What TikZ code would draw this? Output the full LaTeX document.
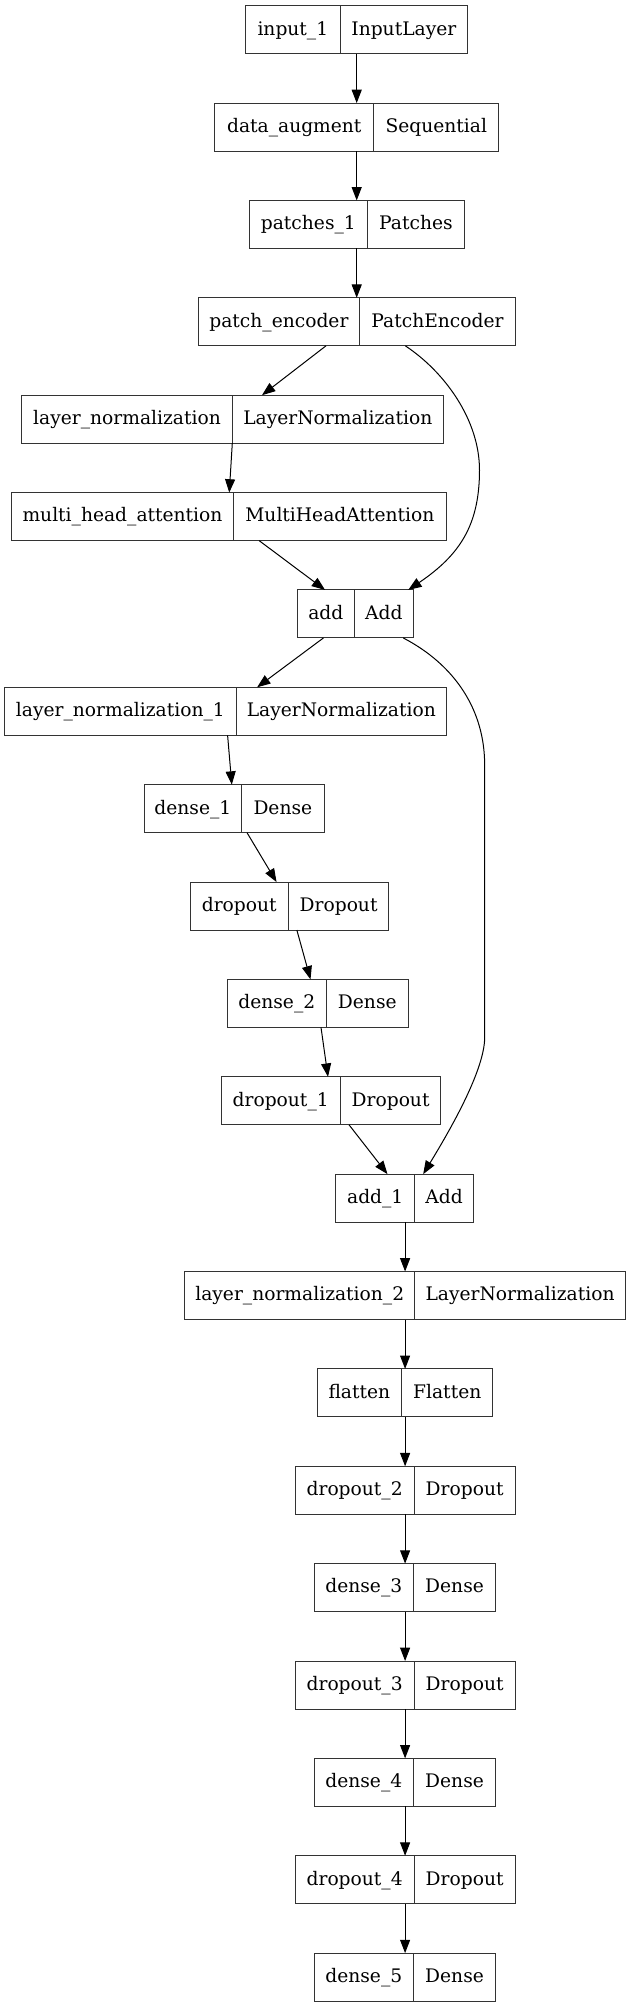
\documentclass[tikz,border=0pt]{standalone}
\usepackage{fontspec}
\setmainfont{DejaVu Serif}
\usetikzlibrary{arrows.meta,calc,fit}
\tikzset{
  fld/.style={draw=black!80, line width=0.75pt, minimum height=36pt, inner sep=0pt, outer sep=0pt,
    text height=10.5pt, text depth=2.5pt, font=\fontsize{14pt}{16pt}\selectfont},
  conn/.style={line width=0.75pt, -{Triangle[length=10pt,width=7.5pt]}},
}
\newcommand{\layerrec}[7]{%
  \pgfmathsetmacro\recy{29.7+97.37*#2}%
  \pgfmathsetmacro\recwl{(#6-#5)*0.75}%
  \pgfmathsetmacro\recwr{(#7-#6)*0.75}%
  \pgfmathsetmacro\recxl{(#5+#6)/2}%
  \pgfmathsetmacro\recxr{(#6+#7)/2}%
  \node[fld, minimum width=\recwl pt] (#1l) at (\recxl,\recy) {#3};
  \node[fld, minimum width=\recwr pt] (#1r) at (\recxr,\recy) {#4};
  \node[fit=(#1l)(#1r), inner sep=0pt, outer sep=0pt] (#1) {};
}
\begin{document}
\begin{tikzpicture}[x=0.75pt, y=-0.75pt]
\useasboundingbox (0,0) rectangle (631,2007);
\layerrec{n0}{0}{input\_1}{InputLayer}{245.7}{340}{467.7}
\layerrec{n1}{1}{data\_augment}{Sequential}{214.9}{373.7}{498.9}
\layerrec{n2}{2}{patches\_1}{Patches}{249.4}{367.3}{464.5}
\layerrec{n3}{3}{patch\_encoder}{PatchEncoder}{198.3}{359.5}{515.5}
\layerrec{n4}{4}{layer\_normalization}{LayerNormalization}{21.7}{232.3}{443.3}
\layerrec{n5}{5}{multi\_head\_attention}{MultiHeadAttention}{11.3}{233.7}{446}
\layerrec{n6}{6}{add}{Add}{297.2}{354.5}{413.3}
\layerrec{n7}{7}{layer\_normalization\_1}{LayerNormalization}{4.7}{236}{446.7}
\layerrec{n8}{8}{dense\_1}{Dense}{144}{241.7}{324}
\layerrec{n9}{9}{dropout}{Dropout}{190.2}{288.3}{388.9}
\layerrec{n10}{10}{dense\_2}{Dense}{227.1}{326.5}{408.1}
\layerrec{n11}{11}{dropout\_1}{Dropout}{221}{340.4}{440.8}
\layerrec{n12}{12}{add\_1}{Add}{335.7}{414.8}{473.5}
\layerrec{n13}{13}{layer\_normalization\_2}{LayerNormalization}{184.7}{414.8}{625.3}
\layerrec{n14}{14}{flatten}{Flatten}{317}{401.7}{492.8}
\layerrec{n15}{15}{dropout\_2}{Dropout}{295.1}{414.2}{515.1}
\layerrec{n16}{16}{dense\_3}{Dense}{314.2}{413.4}{495.7}
\layerrec{n17}{17}{dropout\_3}{Dropout}{295.1}{414.2}{515.1}
\layerrec{n18}{18}{dense\_4}{Dense}{314.2}{413.4}{495.7}
\layerrec{n19}{19}{dropout\_4}{Dropout}{295.1}{414.2}{515.1}
\layerrec{n20}{20}{dense\_5}{Dense}{314.2}{413.4}{495.7}

\draw[conn] (n0.south) -- (n0.south |- n1.north);
\draw[conn] (n0.south |- n1.south) -- (n0.south |- n2.north);
\draw[conn] (n0.south |- n2.south) -- (n0.south |- n3.north);
\draw[conn] ($(n3.south)+(-30.9,0)$) -- ($(n4.north)+(29.5,0)$);
\draw[conn] ($(n3.south)+(48.4,0)$)
   .. controls ($(n3.south)+(88.1,26.3)$) and ($(n3.south)+(122.6,74.3)$) .. ($(n3.south)+(122.6,124.3)$)
   .. controls ($(n6.north)+(124.2,-65)$) and ($(n6.north)+(104.7,-35)$) .. ($(n6.north)+(53,0)$);
\draw[conn] ($(n4.south)+(-0.2,0)$) -- ($(n5.north)+(0.6,0)$);
\draw[conn] ($(n5.south)+(30.4,0)$) -- ($(n6.north)+(-30.2,0)$);
\draw[conn] ($(n6.south)+(-31.8,0)$) -- ($(n7.north)+(31.4,0)$);
\draw[conn] ($(n6.south)+(48,0)$)
   .. controls ($(n6.south)+(99.7,27)$) and ($(n6.south)+(129.4,72)$) .. ($(n6.south)+(129.4,127)$)
   -- ($(n12.north)+(80.1,-137)$)
   .. controls ($(n12.north)+(80.1,-104)$) and ($(n12.north)+(45.4,-44)$) .. ($(n12.north)+(18.6,0)$);
\draw[conn] ($(n7.south)+(1.9,0)$) -- ($(n8.north)+(-2.2,0)$);
\draw[conn] ($(n8.south)+(13,0)$) -- ($(n9.north)+(-13,0)$);
\draw[conn] ($(n9.south)+(7.3,0)$) -- ($(n10.north)+(-7.1,0)$);
\draw[conn] ($(n10.south)+(3.4,0)$) -- ($(n11.north)+(-2.9,0)$);
\draw[conn] ($(n11.south)+(18.1,0)$) -- ($(n12.north)+(-17.1,0)$);
\draw[conn] (n15.south |- n12.south) -- (n15.south |- n13.north);
\draw[conn] (n15.south |- n13.south) -- (n15.south |- n14.north);
\draw[conn] (n15.south |- n14.south) -- (n15.north);
\draw[conn] (n15.south) -- (n15.south |- n16.north);
\draw[conn] (n15.south |- n16.south) -- (n17.north);
\draw[conn] (n17.south) -- (n17.south |- n18.north);
\draw[conn] (n17.south |- n18.south) -- (n19.north);
\draw[conn] (n19.south) -- (n19.south |- n20.north);
\end{tikzpicture}
\end{document}
